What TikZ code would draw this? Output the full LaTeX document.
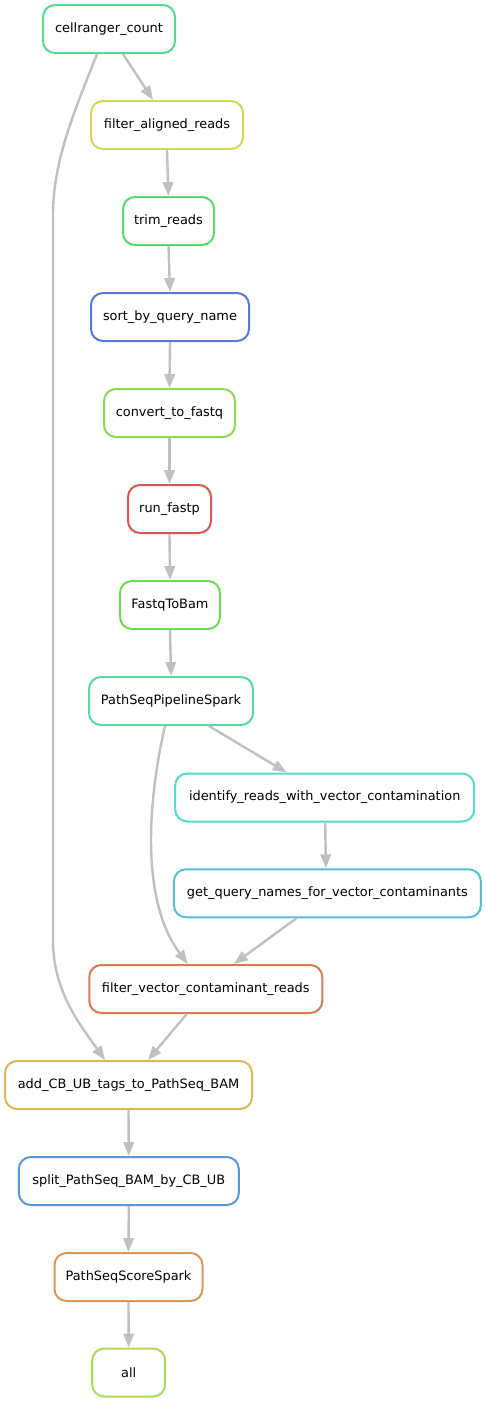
\documentclass[tikz,border=0pt]{standalone}
\usepackage{fontspec}
\setmainfont{DejaVu Sans}
\usetikzlibrary{arrows.meta,calc}

% rule border colours (hsv 0.6 saturation, 0.85 value)
\definecolor{cCellranger}{RGB}{87,217,142}
\definecolor{cFilterAligned}{RGB}{207,217,87}
\definecolor{cTrim}{RGB}{87,217,110}
\definecolor{cSort}{RGB}{87,122,217}
\definecolor{cConvert}{RGB}{139,217,87}
\definecolor{cFastp}{RGB}{217,87,87}
\definecolor{cFastqToBam}{RGB}{110,217,87}
\definecolor{cPipeline}{RGB}{87,217,165}
\definecolor{cIdentify}{RGB}{87,217,204}
\definecolor{cQueryNames}{RGB}{87,190,217}
\definecolor{cFilterVector}{RGB}{217,122,87}
\definecolor{cAddTags}{RGB}{217,184,87}
\definecolor{cSplit}{RGB}{87,152,217}
\definecolor{cScore}{RGB}{217,152,87}
\definecolor{cAll}{RGB}{174,217,87}
\definecolor{edgegray}{RGB}{192,192,192}

\tikzset{
  rule/.style={draw=#1, line width=2pt, rounded corners=12pt, fill=white,
    minimum height=48pt, inner xsep=4pt, inner ysep=0pt,
    font=\fontsize{12.9}{15}\selectfont, text=black},
  dep/.style={draw=edgegray, line width=2.4pt,
    -{Triangle[length=14pt,width=10.5pt]}},
}

\begin{document}
\begin{tikzpicture}[x=1pt,y=-1pt]
\useasboundingbox (0,0) rectangle (486,1403);

\node[rule=cCellranger, minimum width=132pt] (cr) at (109,29) {cellranger\_count};
\node[rule=cFilterAligned, minimum width=152pt] (far) at (167,125) {filter\_aligned\_reads};
\node[rule=cTrim, minimum width=91pt] (trim) at (168.5,221) {trim\_reads};
\node[rule=cSort, minimum width=158pt] (sort) at (170,317) {sort\_by\_query\_name};
\node[rule=cConvert, minimum width=131pt] (conv) at (169.5,413) {convert\_to\_fastq};
\node[rule=cFastp, minimum width=83pt] (fastp) at (169.5,509) {run\_fastp};
\node[rule=cFastqToBam, minimum width=100pt] (f2b) at (170,605) {FastqToBam};
\node[rule=cPipeline, minimum width=164pt] (pps) at (171,701) {PathSeqPipelineSpark};
\node[rule=cIdentify, minimum width=299pt] (ident) at (324.7,797.5) {identify\_reads\_with\_vector\_contamination};
\node[rule=cQueryNames, minimum width=307pt] (qn) at (327.4,893.3) {get\_query\_names\_for\_vector\_contaminants};
\node[rule=cFilterVector, minimum width=233pt] (fv) at (205.8,989) {filter\_vector\_contaminant\_reads};
\node[rule=cAddTags, minimum width=247pt] (add) at (128.5,1085) {add\_CB\_UB\_tags\_to\_PathSeq\_BAM};
\node[rule=cSplit, minimum width=220pt] (split) at (128.8,1181) {split\_PathSeq\_BAM\_by\_CB\_UB};
\node[rule=cScore, minimum width=148pt] (pss) at (128.5,1277) {PathSeqScoreSpark};
\node[rule=cAll, minimum width=73pt] (all) at (128.7,1372.5) {all};

% straight dependencies
\draw[dep] ($(cr.south)+(14,0)$) -- ($(far.north)+(-14,0)$);
\draw[dep] (far.south) -- (trim.north);
\draw[dep] (trim.south) -- (sort.north);
\draw[dep] (sort.south) -- (conv.north);
\draw[dep] (conv.south) -- (fastp.north);
\draw[dep] (fastp.south) -- (f2b.north);
\draw[dep] (f2b.south) -- (pps.north);
\draw[dep] ($(pps.south)+(38,0)$) -- ($(ident.north)+(-38,0)$);
\draw[dep] ($(ident.south)+(0.5,0)$) -- ($(qn.north)+(-1.5,0)$);
\draw[dep] ($(qn.south)+(-31,0)$) -- ($(fv.north)+(28,0)$);
\draw[dep] ($(fv.south)+(-19,0)$) -- ($(add.north)+(19.5,0)$);
\draw[dep] (add.south) -- (split.north);
\draw[dep] (split.south) -- (pss.north);
\draw[dep] (pss.south) -- (all.north);

% long curved dependencies
\draw[dep] ($(cr.south)+(-12,0)$) .. controls (75,110) and (53,160) .. (53,215)
  -- (53,940) .. controls (53,990) and (78,1022) .. ($(add.north)+(-23.5,0)$);
\draw[dep] ($(pps.south)+(-6,0)$) .. controls (148,800) and (140,900) .. ($(fv.north)+(-18,0)$);
\end{tikzpicture}
\end{document}
